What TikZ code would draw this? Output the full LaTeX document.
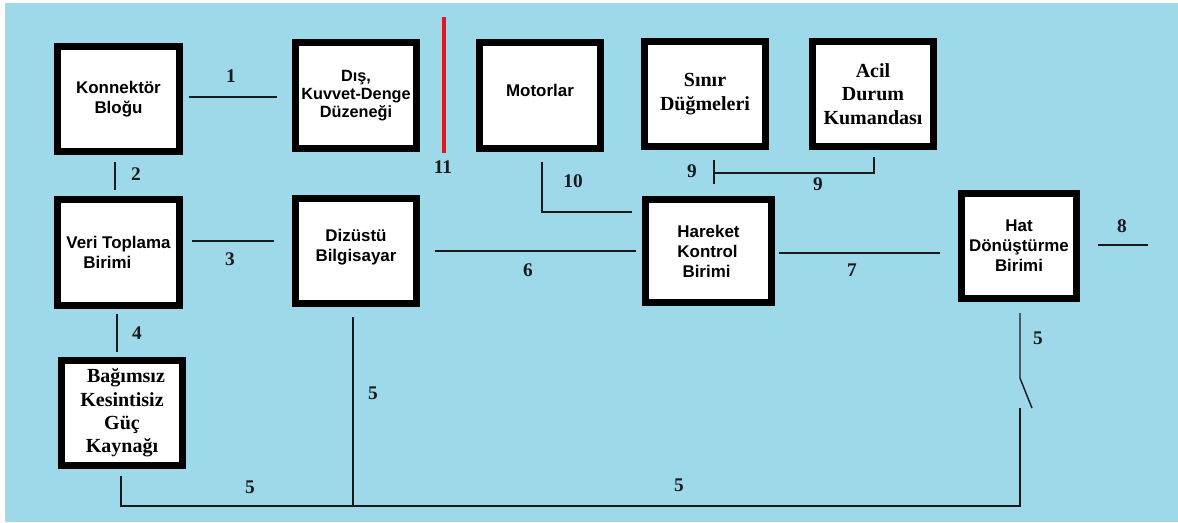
\documentclass[tikz,border=0pt]{standalone}
\usepackage{fontspec}
\setmainfont{Liberation Serif}
\newfontfamily\arialfont{Liberation Sans}
\usetikzlibrary{calc}
\definecolor{Sky}{HTML}{9ED9EA}
\definecolor{Mark}{HTML}{E8141C}
\definecolor{Ink}{HTML}{1A1A1A}

\tikzset{
  blok/.style={draw=black,line width=5.25pt,fill=white,minimum width=91pt,minimum height=79pt,inner sep=1pt,align=center},
  sans/.style={font=\arialfont\bfseries\fontsize{12.7}{15}\selectfont},
  serif/.style={font=\bfseries\fontsize{15}{17.5}\selectfont},
  wire/.style={draw=Ink,line width=1.1pt},
  num/.style={font=\bfseries\fontsize{14.5}{16}\selectfont,inner sep=1pt,text=Ink},
}

\begin{document}
\begin{tikzpicture}[x=0.75pt,y=-0.75pt]
  % background
  \fill[white] (0,0) rectangle (1178,522);
  \fill[Sky] (5,3) rectangle (1178,522);
  \useasboundingbox (0,0) rectangle (1178,522);

  % blocks, top row
  \node[blok,sans] (kon) at (118.5,99) {Konnektör\\Bloğu};
  \node[blok,sans,font=\arialfont\bfseries\fontsize{12.2}{13.5}\selectfont] (dis) at (356,95.5) {Dış,\\Kuvvet-Denge\\Düzeneği};
  \node[blok,sans] (mot) at (540,95.5) {\raisebox{3.75pt}[\height][\depth]{Motorlar}};
  \node[blok,serif] (sin) at (705,94) {Sınır\\Düğmeleri};
  \node[blok,serif] (acil) at (873,94) {Acil\\Durum\\Kumandası};

  % blocks, middle row
  \node[blok,sans,align=left] (veri) at (118.5,252.5) {Veri Toplama\\\hspace*{1em}Birimi};
  \node[blok,sans] (diz) at (356,251) {Dizüstü\\Bilgisayar\\[-6pt]};
  \node[blok,sans,align=left,minimum width=94.5pt,minimum height=77.25pt] (har) at (708.5,251) {Hareket\\Kontrol\\\hspace*{0.3em}Birimi};
  \node[blok,sans,minimum width=86.25pt] (hat) at (1019,246) {Hat\\Dönüştürme\\Birimi};

  % block, bottom row
  \node[blok,serif] (ups) at (122,413) {\hspace*{0.4em}Bağımsız\\Kesintisiz\\Güç\\Kaynağı};

  % connectors
  \draw[wire] ($(kon.east)+(6,-2)$) -- ($(dis.west)+(-15,1.5)$);
  \draw[wire] ($(kon.south)+(-3.5,7)$) -- ($(veri.north)+(-3.5,-6)$);
  \draw[wire] ($(veri.east)+(9,-11.5)$) -- ($(diz.west)+(-18,-10)$);
  \draw[wire] ($(veri.south)+(-1.5,5)$) -- ($(ups.north)+(-5,-5)$);
  \draw[wire] ($(diz.east)+(15,0)$) -- ($(har.west)+(-6,0)$);
  \draw[wire] ($(har.east)+(4,2)$) -- ($(hat.west)+(-18,7)$);
  \coordinate (out8) at ($(hat.east)+(68,-1)$);
  \draw[wire] ($(hat.east)+(18,-1)$) -- (out8);
  \draw[wire] ($(mot.south)+(2,10)$) |- ($(har.west)+(-10,-39)$);
  \draw[wire] ($(sin.south)+(9,10)$) -- ($(sin.south)+(9,34)$);
  \draw[wire] ($(sin.south)+(9,23)$) -| ($(acil.south)+(1,7)$);

  % power line with switch
  \coordinate (swtop) at ($(hat.south)+(1,11)$);
  \coordinate (swknee) at ($(hat.south)+(1,76)$);
  \coordinate (swblade) at ($(hat.south)+(13,106)$);
  \coordinate (swlow) at ($(hat.south)+(1,106)$);
  \coordinate (bus) at ($(hat.south)+(1,204)$);
  \coordinate (dizdown) at ($(diz.south)+(-3,10)$);
  \draw[wire] (swtop) -- (swknee) -- (swblade);
  \draw[wire] ($(ups.south)+(-1,7)$) |- (bus) -- (swlow);
  \draw[wire] (dizdown) -- (dizdown |- bus);

  % red separator
  \draw[Mark,line width=3pt] ($(dis.east)+(24,-78.5)$) -- ($(dis.east)+(24,57.5)$);

  % numbers
  \node[num] (n1) at (231,76) {1};
  \node[num] (n2) at (136,174) {2};
  \node[num] (n3) at (230,259) {3};
  \node[num] (n4) at (137,333) {4};
  \node[num] (n5a) at (373,393) {5};
  \node[num] (n5b) at (250,487) {5};
  \node[num] (n5c) at (679,485) {5};
  \node[num] (n5d) at (1038,338) {5};
  \node[num] (n6) at (528,270) {6};
  \node[num] (n7) at (852,270) {7};
  \node[num] (n8) at (1122,226) {8};
  \node[num] (n9a) at (692,171) {9};
  \node[num] (n9b) at (818,184) {9};
  \node[num] (n10) at (573,181) {10};
  \node[num] (n11) at (443,167) {11};
\end{tikzpicture}
\end{document}
